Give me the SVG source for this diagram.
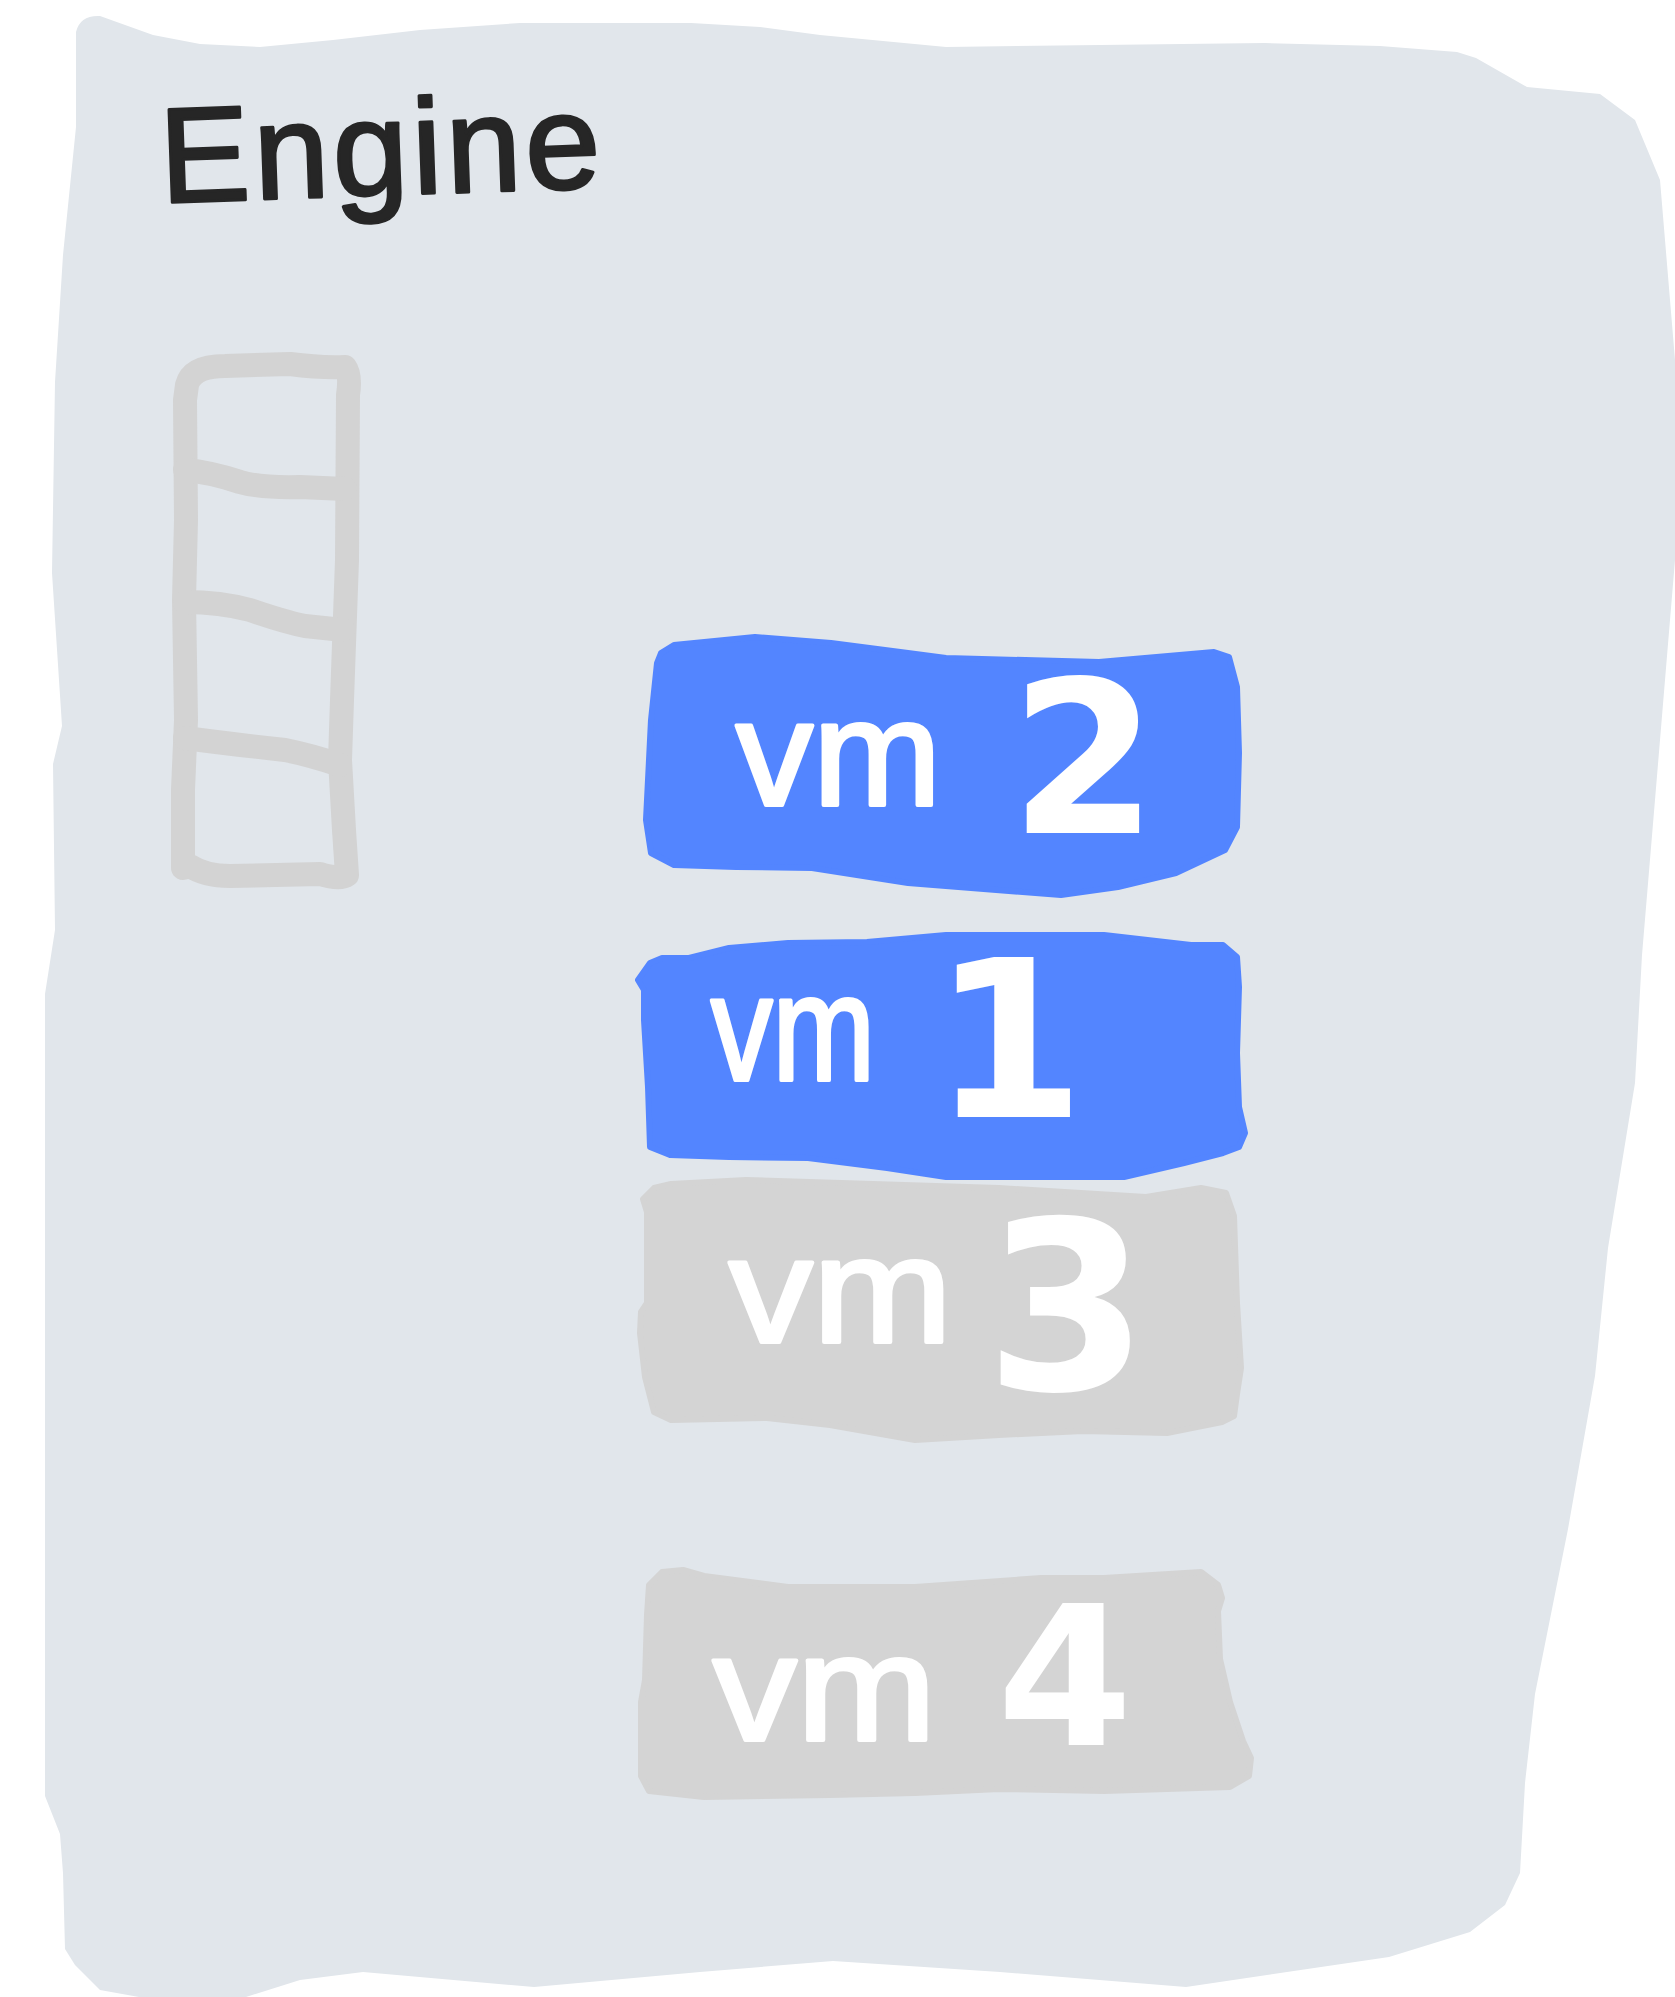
<svg xmlns="http://www.w3.org/2000/svg" width="1675" height="1997" viewBox="0 0 1675 1997">
<style>
.bg{fill:#e1e6eb}
.ladder{fill:none;stroke:#d3d3d3;stroke-width:24px;stroke-linecap:round;stroke-linejoin:round}
.blue{fill:#5385ff;stroke:#5385ff;stroke-width:6px;stroke-linejoin:round}
.gray{fill:#d4d4d4;stroke:#d4d4d4;stroke-width:6px;stroke-linejoin:round}
.title{font-family:"Liberation Sans","DejaVu Sans",sans-serif;font-size:135px;fill:#262626;stroke:#262626;stroke-width:3px;stroke-linejoin:round;letter-spacing:4px}
.vm{font-family:"Liberation Sans","DejaVu Sans",sans-serif;font-size:150px;fill:#fff;stroke:#fff;stroke-width:4px;stroke-linejoin:round}
.num{font-family:"DejaVu Sans","Liberation Sans",sans-serif;font-weight:bold;fill:#fff}
</style>
<rect width="1675" height="1997" fill="#ffffff"/>
<g id="engine">
<path class="bg" d="M76,60 L76,32 Q80,15 100,16 L153,35 L200,44 L260,47 L333,40 L420,30 L520,23 L691,23 L760,27 L820,35 L946,47 L1100,45 L1265,43 L1380,46 L1457,52 L1476,58 L1527,87 L1600,94 L1635,120 L1660,180 L1670,300 L1675,360 L1675,560 L1658,764 L1642,955 L1635,1083 L1608,1248 L1595,1376 L1568,1529 L1535,1694 L1525,1783 L1520,1873 L1505,1905 L1470,1932 L1389,1957 L1186,1987 L1000,1972 L833,1961 L700,1972 L534,1987 L363,1972 L300,1980 L246,1997 L139,1997 L100,1990 L75,1965 L65,1949 L63,1873 L60,1834 L45,1796 L45,1274 L45,994 L55,930 L53,764 L62,726 L52,573 L55,382 L63,255 L76,127 Z"/>
<text class="title" x="160" y="195" transform="rotate(-2 380 160)">Engine</text>
</g>
<g id="stack">
<path class="ladder" d="M187,385 Q192,366 225,366 L290,364 Q320,368 345,367 Q351,375 348,395 L347,560 L342,700 L340,760 L344,830 L347,875 Q340,880 320,874 L230,876 Q205,876 190,866 L183,868 L183,790 L186,720 L184,600 L186,520 L185,400 Z"/>
<path class="ladder" d="M185,470 Q210,472 240,482 Q260,488 300,487 L345,489"/>
<path class="ladder" d="M185,602 Q220,602 250,610 Q285,622 305,626 L343,630"/>
<path class="ladder" d="M185,738 Q230,744 285,750 Q310,755 340,765"/>
</g>
<g id="vm2">
<path class="blue" d="M657,663 L661,653 L674,645 L755,637 L831,643 L908,653 L946,658 L1099,662 L1214,652 L1229,657 L1237,687 L1239,753 L1237,827 L1225,850 L1176,873 L1118,887 L1061,895 L908,883 L812,868 L736,867 L674,865 L651,853 L646,820 L651,720 Z"/>
<text class="vm" x="736" y="805" font-size="165"><tspan textLength="205" lengthAdjust="spacingAndGlyphs">vm</tspan> <tspan class="num" x="1010" y="833" font-size="212" stroke="none">2</tspan></text>
</g>
<g id="vm1">
<path class="blue" d="M638,980 L650,963 L662,958 L689,958 L729,948 L788,943 L867,942 L946,935 L1104,935 L1191,945 L1223,945 L1237,957 L1239,987 L1237,1053 L1239,1107 L1245,1133 L1239,1147 L1223,1153 L1184,1163 L1124,1177 L1065,1177 L946,1177 L887,1168 L808,1158 L729,1157 L670,1155 L650,1147 L648,1087 L644,1020 L644,990 Z"/>
<text class="vm" x="711" y="1080"><tspan textLength="164" lengthAdjust="spacingAndGlyphs">vm</tspan> <tspan class="num" x="932" y="1117" font-size="220" stroke="none">1</tspan></text>
</g>
<g id="vm3">
<path class="gray" d="M643,1199 L654,1188 L671,1184 L746,1180 L873,1184 L999,1188 L1146,1197 L1201,1188 L1226,1193 L1234,1216 L1237,1303 L1241,1368 L1237,1394 L1234,1416 L1222,1422 L1167,1433 L1083,1431 L999,1435 L915,1440 L830,1425 L767,1418 L671,1420 L654,1412 L645,1377 L640,1333 L641,1312 L647,1303 L647,1212 Z"/>
<text class="vm" x="729" y="1342"><tspan textLength="223" lengthAdjust="spacingAndGlyphs">vm</tspan> <tspan class="num" x="985" y="1390" font-size="235" stroke="none">3</tspan></text>
</g>
<g id="vm4">
<path class="gray" d="M649,1585 L662,1572 L683,1570 L704,1576 L788,1587 L915,1587 L1041,1578 L1104,1578 L1201,1572 L1218,1585 L1222,1598 L1218,1611 L1220,1659 L1230,1702 L1243,1741 L1251,1758 L1249,1776 L1230,1787 L1167,1789 L1104,1791 L999,1789 L915,1793 L830,1795 L704,1797 L649,1791 L641,1776 L641,1702 L645,1680 L647,1615 Z"/>
<text class="vm" x="713" y="1740"><tspan textLength="223" lengthAdjust="spacingAndGlyphs">vm</tspan> <tspan class="num" x="997" y="1745" font-size="195" stroke="none">4</tspan></text>
</g>
<g id="connectors"></g>
</svg>
